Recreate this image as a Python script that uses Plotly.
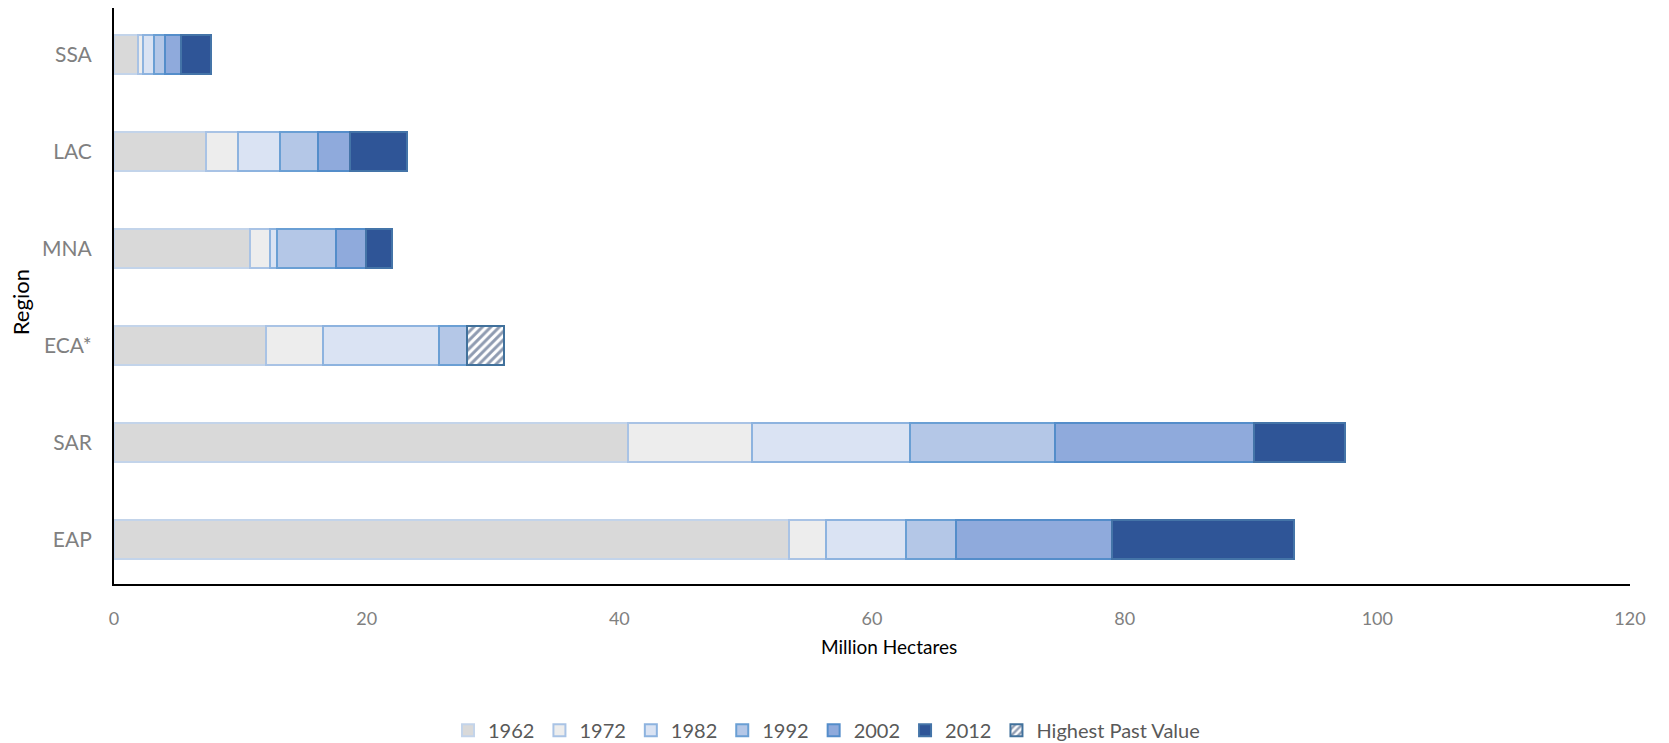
import plotly.graph_objects as go

regions = ["EAP", "SAR", "ECA*", "MNA", "LAC", "SSA"]

# segment lengths (million hectares) per decade, stacked
v1962 = [53.45, 40.71, 12.07, 10.78, 7.31, 1.87]
v1972 = [2.92, 9.83, 4.51, 1.56, 2.47, 0.45]
v1982 = [6.34, 12.43, 9.14, 0.54, 3.32, 0.84]
v1992 = [3.95, 11.52, 2.24, 4.68, 3.05, 0.89]
v2002 = [12.36, 15.73, None, 2.35, 2.55, 1.24]
v2012 = [14.35, 7.21, None, 2.07, 4.51, 2.37]
v_high = [None, None, 2.93, None, None, None]

series = [
    ("1962", v1962, "#d9d9d9", "#c3d4ea"),
    ("1972", v1972, "#ededed", "#a9c3e5"),
    ("1982", v1982, "#dae3f3", "#8db3df"),
    ("1992", v1992, "#b4c7e7", "#6a9fd4"),
    ("2002", v2002, "#8faadc", "#548dca"),
    ("2012", v2012, "#2f5597", "#4474a8"),
]

font_family = "Lato, 'Open Sans', sans-serif"

fig = go.Figure()
for name, vals, fill, line in series:
    fig.add_trace(go.Bar(
        y=regions, x=vals, name=name, orientation="h",
        marker=dict(color=fill, line=dict(color=line, width=2)),
    ))
fig.add_trace(go.Bar(
    y=regions, x=v_high, name="Highest Past Value", orientation="h",
    marker=dict(color="white", line=dict(color="#41719c", width=2),
                pattern=dict(shape="/", fgcolor="#1f3864", bgcolor="white",
                             size=6, solidity=0.5)),
))

fig.update_layout(
    barmode="stack",
    bargap=0.6,
    width=1669, height=743,
    margin=dict(l=114, r=39, t=8, b=159, autoexpand=False),
    paper_bgcolor="white", plot_bgcolor="white",
    font=dict(family=font_family, color="#595959"),
    showlegend=True,
    legend=dict(orientation="h", x=0.47, xanchor="center", y=-0.254, yanchor="middle",
                font=dict(size=20, color="#595959"), traceorder="normal",
                itemwidth=30),
    xaxis=dict(range=[0, 120], dtick=20, showgrid=False, zeroline=False,
               showline=True, linecolor="black", linewidth=2,
               tickfont=dict(size=18, color="#808080"), ticks="",
               ticklabelstandoff=17),
    yaxis=dict(range=[-0.46, 5.48], showgrid=False, zeroline=False,
               showline=True, linecolor="black", linewidth=2,
               tickfont=dict(size=21, color="#808080"), ticks="",
               ticklabelstandoff=16),
    annotations=[
        dict(text="Region", xref="paper", yref="paper", x=-0.0617, y=0.49,
             xanchor="center", yanchor="middle", textangle=-90,
             showarrow=False, font=dict(size=22, color="black")),
        dict(text="Million Hectares", xref="paper", yref="paper", x=0.511, y=-0.108,
             xanchor="center", yanchor="middle",
             showarrow=False, font=dict(size=19, color="black")),
    ],
)

fig.write_html("out.html")
